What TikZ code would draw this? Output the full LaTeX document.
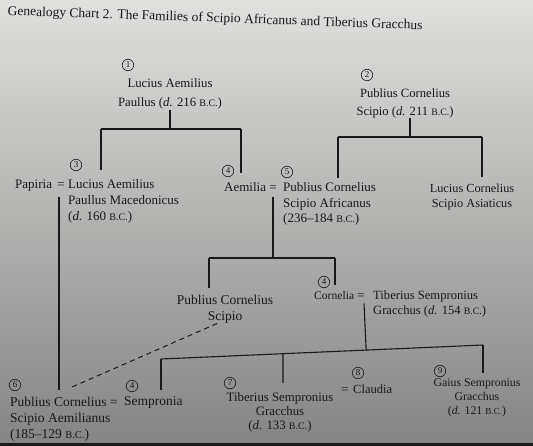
\documentclass[tikz,border=0pt]{standalone}
\usepackage{fontspec}
\setmainfont{Liberation Serif}
\usetikzlibrary{calc}
\newcommand\fsz[2]{\fontsize{#1}{#2}\selectfont}
\newcommand\BC{\scalebox{0.78}{B.C.}}
\newcommand\dd{\textit{d.}}
\definecolor{ink}{RGB}{24,24,24}
\definecolor{pagetop}{RGB}{224,224,222}
\definecolor{pagemid}{RGB}{194,194,193}
\definecolor{pagebot}{RGB}{132,132,132}
\begin{document}
\begin{tikzpicture}[x=1pt,y=-1pt,
  every node/.style={inner sep=0pt,text=ink},
  person/.style={align=center,font=\fsz{13}{17}},
  personl/.style={align=left,font=\fsz{13}{16}},
  word/.style={font=\fsz{13}{16}},
  num/.style={circle,draw=ink,line width=0.6pt,minimum size=11.5pt,font=\fsz{9}{9}},
  line/.style={draw=ink,line width=1.1pt},
  link/.style={draw=ink,line width=1pt,dash pattern=on 5pt off 4pt}]
\useasboundingbox (0,0) rectangle (533,446);
% page background
\shade[top color=pagetop,middle color=pagemid,bottom color=pagebot] (0,0) rectangle (533,446);
\fill[black!90] (0,443) rectangle (533,446);

% title
\node[font=\fsz{13.5}{16},rotate=-2] (title) at (215,19)
  {Genealogy Chart 2. The Families of Scipio Africanus and Tiberius Gracchus};

% first generation
\node[num] (c1) at (128,65) {1};
\node[person,anchor=north,font=\fsz{12.8}{19}] (p1) at (170,78.5)
  {Lucius Aemilius\\Paullus (\dd{} 216 \BC)};
\node[num] (c2) at (367,75) {2};
\node[person,anchor=north,font=\fsz{12.6}{18}] (p2) at (405,88.4)
  {Publius Cornelius\\Scipio (\dd{} 211 \BC)};

% second generation
\node[num] (c3) at (76,165) {3};
\node[word,anchor=base west] (papiria) at (15,188.5) {Papiria};
\node[word,anchor=base] (eq3) at (61,188.5) {=};
\node[personl,anchor=north west] (p3) at (68,179.4)
  {Lucius Aemilius\\Paullus Macedonicus\\(\dd{} 160 \BC)};
\node[num] (c4a) at (228,171) {4};
\node[word,anchor=base west] (aemilia) at (224,191.3) {Aemilia};
\node[word,anchor=base] (eq5) at (273,191.3) {=};
\node[num] (c5) at (287,172) {5};
\node[personl,anchor=north west,font=\fsz{13}{15.5}] (p5) at (283,182.4)
  {Publius Cornelius\\Scipio Africanus\\(236--184 \BC)};
\node[person,anchor=north,font=\fsz{12.3}{15}] (asiat) at (472,183.4)
  {Lucius Cornelius\\Scipio Asiaticus};

% third generation
\node[person,anchor=north,font=\fsz{13.5}{15.5}] (p4s) at (225,295.4)
  {Publius Cornelius\\Scipio};
\node[num] (c4b) at (324,282) {4};
\node[word,anchor=base west,font=\fsz{11.6}{15}] (cornelia) at (314,299.3) {Cornelia};
\node[word,anchor=base] (eq4) at (361,299.3) {=};
\node[personl,anchor=north west,font=\fsz{12.6}{15}] (p4t) at (373,290.4)
  {Tiberius Sempronius\\\hspace*{0pt}Gracchus (\dd{} 154 \BC)};

% fourth generation
\node[num] (c6) at (15,385) {6};
\node[personl,anchor=north west,font=\fsz{13.5}{16}] (p6) at (10,397.4)
  {Publius Cornelius\\Scipio Aemilianus\\(185--129 \BC)};
\node[word,anchor=base,font=\fsz{13.5}{16}] (eq6) at (114,406.3) {=};
\node[word,anchor=base west,font=\fsz{13.5}{16}] (sempronia) at (124,405.5) {Sempronia};
\node[num] (c4c) at (132,386) {4};
\node[num] (c7) at (230,383) {7};
\node[person,anchor=north,font=\fsz{12.8}{14}] (p7) at (280,392.4)
  {Tiberius Sempronius\\Gracchus\\(\dd{} 133 \BC)};
\node[word,anchor=base,font=\fsz{12.8}{14}] (eq7) at (345,393.5) {=};
\node[word,anchor=base west,font=\fsz{12.5}{14}] (claudia) at (353,393.3) {Claudia};
\node[num] (c8) at (358,373) {8};
\node[num] (c9) at (440,371) {9};
\node[person,anchor=north,font=\fsz{11.8}{14}] (p9) at (477,378.4)
  {Gaius Sempronius\\Gracchus\\(\dd{} 121 \BC)};

% junction points of the family bars
\coordinate (j1) at (170,129);
\coordinate (b1l) at (101,129);
\coordinate (b1r) at (241,129);
\coordinate (t3) at (101,170);
\coordinate (t4) at (241,173);
\coordinate (j2) at (410,137);
\coordinate (b2l) at (338,137);
\coordinate (b2r) at (482,137);
\coordinate (t5) at (338,178);
\coordinate (ta) at (482,177);
\coordinate (j5) at (273,258);
\coordinate (b5l) at (209,258);
\coordinate (b5r) at (335,258);
\coordinate (t4s) at (209,288);
\coordinate (t4c) at (335,285);
\coordinate (bl) at (161,359);
\coordinate (br) at (483,345);
\coordinate (bm) at ($(bl)!0.379!(br)$);
\coordinate (t6) at (59,390);
\coordinate (ts) at (161,390);
\coordinate (t7) at (283,383);
\coordinate (t9) at (483,373);
\coordinate (d6) at (72,387);

% descent lines
\path[line] (p1.south) -- (j1);
\path[line] (b1l) -- (b1r);
\path[line] (b1l) -- (t3);
\path[line] (b1r) -- (t4);
\path[line] (j2 |- p2.south) -- (j2);
\path[line] (b2l) -- (b2r);
\path[line] (b2l) -- (t5);
\path[line] (b2r) -- (ta);
\path[line] ([yshift=-8pt]eq3.south -| t6) -- (t6);
\path[line] ([yshift=-6pt]eq5.south) -- (j5);
\path[line] (b5l) -- (b5r);
\path[line] (b5l) -- (t4s);
\path[line] (b5r) -- (t4c);
\path[line] ([yshift=-4pt,xshift=3pt]eq4.south) -- ($(bl)!([xshift=3pt]eq4.south)!(br)$);
\path[line] (bl) -- (br);
\path[line] (bl) -- (ts);
\path[line] (bm) -- (t7);
\path[line] (br) -- (t9);
% adoption
\path[link] ([xshift=-8pt]p4s.south) -- (d6);
\end{tikzpicture}
\end{document}
